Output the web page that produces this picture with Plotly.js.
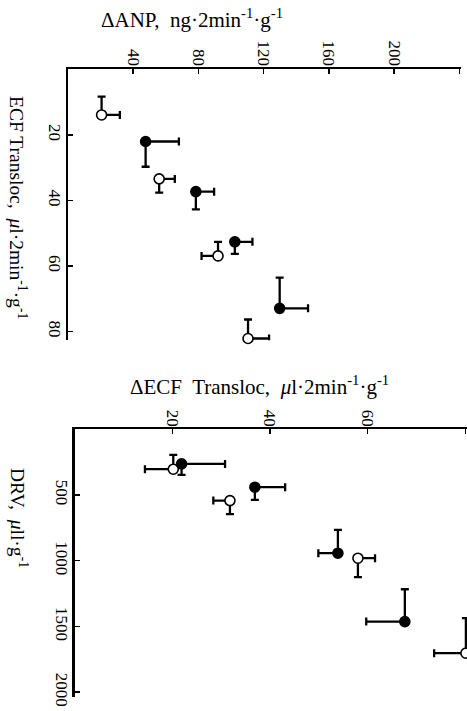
<!DOCTYPE html>
<html>
<head>
<meta charset="utf-8">
<script src="https://cdn.plot.ly/plotly-3.0.1.min.js"></script>
<style>
html,body{margin:0;padding:0;background:#fff;overflow:hidden;width:467px;height:711px;}
#chart{width:480px;height:711px;}
</style>
</head>
<body>
<div id="chart"></div>
<script>
// ---- Top panel: ΔANP (x) vs ECF Transloc (y) ----
const topOpenANP = [20.6, 55.9, 92.0, 110.4];
const topOpenECF = [13.9, 33.4, 56.9, 82.1];
const topOpenANPerrPlus = [11.2, 9.6, 0, 12.9];
const topOpenANPerrMinus = [0, 0, 10.1, 0];
const topOpenECFerrPlus = [0, 4.2, 0, 0];
const topOpenECFerrMinus = [5.6, 0, 4.3, 5.8];

const topFilledANP = [47.6, 78.4, 102.3, 129.8];
const topFilledECF = [22.0, 37.3, 52.6, 72.9];
const topFilledANPerrPlus = [20.4, 11.2, 10.8, 17.4];
const topFilledANPerrMinus = [0, 0, 0, 0];
const topFilledECFerrPlus = [7.7, 5.4, 3.7, 0];
const topFilledECFerrMinus = [0, 0, 0, 9.4];

const topXTicks = [40, 80, 120, 160, 200, 240];
const topXTickText = ['40', '80', '120', '160', '200', ''];
const topYTicks = [20, 40, 60, 80];

// ---- Bottom panel: ΔECF Transloc (x) vs DRV (y) ----
const botOpenECF = [20.2, 31.8, 58.0, 80.1];
const botOpenDRV = [304, 543, 981, 1703];
const botOpenECFerrPlus = [0, 0, 3.5, 0];
const botOpenECFerrMinus = [5.8, 3.4, 0, 6.5];
const botOpenDRVerrPlus = [0, 103, 144, 0];
const botOpenDRVerrMinus = [109, 0, 0, 266];

const botFilledECF = [21.9, 36.9, 53.9, 67.6];
const botFilledDRV = [264, 441, 943, 1463];
const botFilledECFerrPlus = [8.9, 6.2, 0, 0];
const botFilledECFerrMinus = [0, 0, 4.0, 7.9];
const botFilledDRVerrPlus = [83, 97, 0, 0];
const botFilledDRVerrMinus = [0, 0, 177, 246];

const botXTicks = [20, 40, 60, 80];
const botXTickText = ['20', '40', '60', ''];
const botYTicks = [500, 1000, 1500, 2000];

const W = 480, H = 711;
const FONT = 'Liberation Serif, Times New Roman, serif';

function errObj(plus, minus) {
  return {type: 'data', symmetric: false, array: plus, arrayminus: minus,
          color: '#000', thickness: 2.3, width: 4};
}
function trace(x, y, xp, xm, yp, ym, filled, xa, ya) {
  return {
    type: 'scatter', mode: 'markers', x: x, y: y, xaxis: xa, yaxis: ya,
    cliponaxis: false, showlegend: false,
    marker: {symbol: 'circle', size: 10, color: filled ? '#000' : '#fff',
             line: {color: '#000', width: 1.6}},
    error_x: errObj(xp, xm), error_y: errObj(yp, ym)
  };
}

const data = [
  trace(topOpenANP, topOpenECF, topOpenANPerrPlus, topOpenANPerrMinus, topOpenECFerrPlus, topOpenECFerrMinus, false, 'x', 'y'),
  trace(topFilledANP, topFilledECF, topFilledANPerrPlus, topFilledANPerrMinus, topFilledECFerrPlus, topFilledECFerrMinus, true, 'x', 'y'),
  trace(botOpenECF, botOpenDRV, botOpenECFerrPlus, botOpenECFerrMinus, botOpenDRVerrPlus, botOpenDRVerrMinus, false, 'x2', 'y2'),
  trace(botFilledECF, botFilledDRV, botFilledECFerrPlus, botFilledECFerrMinus, botFilledDRVerrPlus, botFilledDRVerrMinus, true, 'x2', 'y2')
];

const axCommon = {
  showline: true, linecolor: '#000', linewidth: 2.5, showgrid: false, zeroline: false,
  ticks: 'inside', ticklen: 5, tickwidth: 1.5, tickcolor: '#000',
  tickfont: {family: FONT, size: 17, color: '#000'}, tickangle: 90, fixedrange: true
};

const topYmax = 82.6;          // px scale ~3.278 px/unit from y=0 at 69.4
const botXmax = 80.6;          // px scale ~4.885 px/unit from x=0 at 74.6

const layout = {
  width: W, height: H,
  margin: {l: 0, r: 0, t: 0, b: 0},
  paper_bgcolor: '#fff', plot_bgcolor: 'rgba(0,0,0,0)',
  font: {family: FONT, color: '#000'},
  showlegend: false,
  xaxis: Object.assign({}, axCommon, {
    domain: [68 / W, 461 / W], range: [0, 241], side: 'top', anchor: 'y',
    tickmode: 'array', tickvals: topXTicks, ticktext: topXTickText, ticklabelstandoff: -5
  }),
  yaxis: Object.assign({}, axCommon, {
    domain: [1 - (69.4 + topYmax * 3.278) / H, 1 - 69.4 / H], range: [topYmax, 0], anchor: 'x',
    tickmode: 'array', tickvals: topYTicks, ticklabelstandoff: -4
  }),
  xaxis2: Object.assign({}, axCommon, {
    domain: [74.6 / W, (74.6 + botXmax * 4.885) / W], range: [0, botXmax], side: 'top', anchor: 'y2',
    tickmode: 'array', tickvals: botXTicks, ticktext: botXTickText, ticklabelstandoff: -6
  }),
  yaxis2: Object.assign({}, axCommon, {
    domain: [1 - 696.7 / H, 1 - 429.2 / H], range: [2034, 0], anchor: 'x2',
    tickmode: 'array', tickvals: botYTicks, ticklabelstandoff: -4
  }),
  annotations: [
    {text: 'ΔANP,  ng·2min<sup>-1</sup>·g<sup>-1</sup>', xref: 'paper', yref: 'paper',
     x: 192 / W, y: 1 - 18 / H, xanchor: 'center', yanchor: 'middle', showarrow: false,
     font: {family: FONT, size: 21, color: '#000'}},
    {text: 'ECF Transloc,  <i>μ</i>l·2min<sup>-1</sup>·g<sup>-1</sup>', xref: 'paper', yref: 'paper',
     x: 18 / W, y: 1 - 207 / H, xanchor: 'center', yanchor: 'middle', showarrow: false,
     textangle: 90, font: {family: FONT, size: 19.5, color: '#000'}},
    {text: 'ΔECF  Transloc,  <i>μ</i>l·2min<sup>-1</sup>·g<sup>-1</sup>', xref: 'paper', yref: 'paper',
     x: 259 / W, y: 1 - 385 / H, xanchor: 'center', yanchor: 'middle', showarrow: false,
     font: {family: FONT, size: 21, color: '#000'}},
    {text: 'DRV,  <i>μ</i>ll·g<sup>-1</sup>', xref: 'paper', yref: 'paper',
     x: 19 / W, y: 1 - 518 / H, xanchor: 'center', yanchor: 'middle', showarrow: false,
     textangle: 90, font: {family: FONT, size: 19.5, color: '#000'}}
  ]
};

Plotly.newPlot('chart', data, layout, {displayModeBar: false, staticPlot: true});
</script>
</body>
</html>
